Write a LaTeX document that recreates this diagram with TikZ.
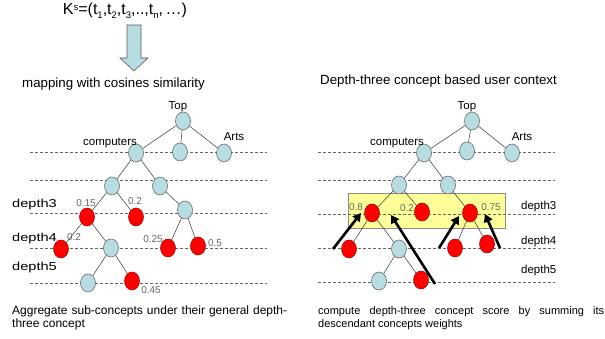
\documentclass[tikz,border=0pt]{standalone}
\usepackage{fontspec}
\setmainfont{Liberation Sans}
\usetikzlibrary{shapes.geometric,arrows.meta}
\definecolor{conceptblue}{HTML}{B7DDE2}
\definecolor{hitred}{HTML}{FF0000}
\definecolor{boxyellow}{HTML}{FFFF99}
\newcommand{\lowtxt}[1]{\raisebox{-0.4ex}{\fontsize{9.5}{10}\selectfont #1}}
\newcommand{\hightxt}[1]{\raisebox{0.55ex}{\fontsize{9.5}{10}\selectfont #1}}
\newcommand{\widelbl}[1]{\scalebox{1.27}[1]{#1}}
\tikzset{
  concept/.style={ellipse,draw=black!65,line width=0.5pt,fill=conceptblue,minimum width=15pt,minimum height=18pt,inner sep=0pt},
  hit/.style={concept,fill=hitred,draw=red!60!black},
  edge/.style={draw=black!80,line width=0.5pt},
  level/.style={draw=black!60,line width=0.5pt,dash pattern=on 3pt off 2pt},
  lbl/.style={font=\fontsize{11.5}{13}\selectfont,inner sep=0pt},
  title/.style={font=\fontsize{13.3}{15}\selectfont,inner sep=0pt,anchor=west},
  wt/.style={font=\fontsize{10}{11}\selectfont,text=black!60,inner sep=0pt},
  push/.style={line width=2.6pt,-{Triangle[length=8pt,width=9pt]}},
  caption/.style={inner sep=0pt,anchor=base west,align=justify}
}
\begin{document}
\begin{tikzpicture}[x=1pt,y=-1pt]
\useasboundingbox (0,0) rectangle (605,339);

% query vector and mapping arrow
\node[inner sep=0pt,font=\fontsize{16}{18}\selectfont,anchor=base] (vec) at (125,15)
  {K\hightxt{s}=(t\lowtxt{1},t\lowtxt{2},t\lowtxt{3},..,t\lowtxt{n},\,…)};
\draw[draw=black!65,fill=conceptblue,line width=0.6pt]
  (127,25) -- (141,25) -- (141,58) -- (148,58) -- (134,71) -- (120,58) -- (127,58) -- cycle;
\node[title] (maptitle) at (22,84) {mapping with cosines similarity};
\node[title] (ctxtitle) at (320,81) {Depth-three concept based user context};

% ---------------- left tree ----------------
\coordinate (la1) at (30,152); \coordinate (lb1) at (267,152);
\coordinate (la2) at (30,180); \coordinate (lb2) at (267,180);
\coordinate (la3) at (30,213); \coordinate (lb3) at (267,213);
\coordinate (la4) at (30,248); \coordinate (lb4) at (267,248);
\coordinate (la5) at (30,283); \coordinate (lb5) at (267,283);
\foreach \i in {1,...,5} \draw[level] (la\i) -- (lb\i);

\node[concept] (Ltop) at (183,121) {};
\node[concept] (Lcomp) at (136,153) {};
\node[concept] (Lmid) at (180,152) {};
\node[concept] (Larts) at (224,153) {};
\node[concept] (La) at (112,186) {};
\node[concept] (Lb) at (160,186) {};
\node[hit] (Lr1) at (87,217) {};
\node[hit] (Lr2) at (136,217) {};
\node[concept] (Lc) at (185,210) {};
\node[hit] (Lr3) at (61,249) {};
\node[concept] (Ld) at (111,248) {};
\node[hit] (Lr4) at (168,248) {};
\node[hit] (Lr5) at (198,246) {};
\node[concept] (Le) at (88,283) {};
\node[hit] (Lr6) at (132,281) {};
\foreach \p/\c in {Ltop/Lcomp,Ltop/Lmid,Ltop/Larts,Lcomp/La,Lcomp/Lb,La/Lr1,La/Lr2,Lb/Lc,
                   Lr1/Lr3,Lr1/Ld,Lc/Lr4,Lc/Lr5,Ld/Le,Ld/Lr6}
  \draw[edge] (\p) -- (\c);

\node[lbl] (LtopT) at (178,107) {Top};
\node[lbl] (LcompT) at (110,143) {computers};
\node[lbl] (LartsT) at (234,137) {Arts};
\node[lbl,anchor=west] (Ld3) at (12,205) {\widelbl{depth3}};
\node[lbl,anchor=west] (Ld4) at (12,239) {\widelbl{depth4}};
\node[lbl,anchor=west] (Ld5) at (12,268) {\widelbl{depth5}};
\node[wt] (Lw1) at (86,203) {0.15};
\node[wt] (Lw2) at (135,201) {0.2};
\node[wt] (Lw3) at (74,237) {0.2};
\node[wt] (Lw4) at (153,239) {0.25};
\node[wt] (Lw5) at (215,243) {0.5};
\node[wt] (Lw6) at (151,290) {0.45};

% ---------------- right tree ----------------
\draw[draw=black!45,fill=boxyellow,line width=0.5pt] (348,193) rectangle (505,228);
\coordinate (ra1) at (318,152); \coordinate (rb1) at (555,152);
\coordinate (ra2) at (318,180); \coordinate (rb2) at (555,180);
\coordinate (ra3) at (318,214); \coordinate (rb3) at (555,214);
\coordinate (ra4) at (318,248); \coordinate (rb4) at (555,248);
\coordinate (ra5) at (318,282); \coordinate (rb5) at (555,282);
\foreach \i in {1,...,5} \draw[level] (ra\i) -- (rb\i);

\node[concept] (Rtop) at (472,121) {};
\node[concept] (Rcomp) at (424,153) {};
\node[concept] (Rmid) at (467,151) {};
\node[concept] (Rarts) at (512,153) {};
\node[concept] (Ra) at (399,185) {};
\node[concept] (Rb) at (448,185) {};
\node[hit] (Rr1) at (372,213) {};
\node[hit] (Rr2) at (422,212) {};
\node[hit] (Rr3) at (470,213) {};
\node[hit] (Rr4) at (349,249) {};
\node[concept] (Rd) at (399,249) {};
\node[hit] (Rr5) at (455,248) {};
\node[hit] (Rr6) at (487,244) {};
\node[concept] (Re) at (379,281) {};
\node[hit] (Rr7) at (421,280) {};
\foreach \p/\c in {Rtop/Rcomp,Rtop/Rmid,Rtop/Rarts,Rcomp/Ra,Rcomp/Rb,Ra/Rr1,Ra/Rr2,Rb/Rr3,
                   Rr1/Rr4,Rr1/Rd,Rr3/Rr5,Rr3/Rr6,Rd/Re,Rd/Rr7}
  \draw[edge] (\p) -- (\c);

\node[lbl] (RtopT) at (467,107) {Top};
\node[lbl] (RcompT) at (397,143) {computers};
\node[lbl] (RartsT) at (522,137) {Arts};
\node[lbl,anchor=west] (Rd3) at (521,207) {depth3};
\node[lbl,anchor=west] (Rd4) at (521,242) {depth4};
\node[lbl,anchor=west] (Rd5) at (521,271) {depth5};
\node[wt] (Rw1) at (356,207) {0.8};
\node[wt] (Rw2) at (407,208) {0.2};
\node[wt] (Rw3) at (491,207) {0.75};

% aggregation arrows towards the depth-three concepts
\coordinate (s1) at (333,249); \coordinate (t1) at (361,213);
\coordinate (s2) at (435,284); \coordinate (t2) at (391,215);
\coordinate (s3) at (439,248); \coordinate (t3) at (459,216);
\coordinate (s4) at (500,248); \coordinate (t4) at (485,214);
\foreach \i in {1,...,4} \draw[push] (s\i) -- (t\i);

% captions
\node[caption,text width=275pt,font=\fontsize{12}{13}\selectfont] (capL) at (12,314)
  {\hyphenpenalty=10000 Aggregate sub-concepts under their general depth-\linebreak three concept};
\node[caption,text width=286pt,font=\fontsize{11}{13}\selectfont] (capR) at (318,314)
  {\hyphenpenalty=10000 compute depth-three concept score by summing its\linebreak descendant concepts weights};
\end{tikzpicture}
\end{document}
